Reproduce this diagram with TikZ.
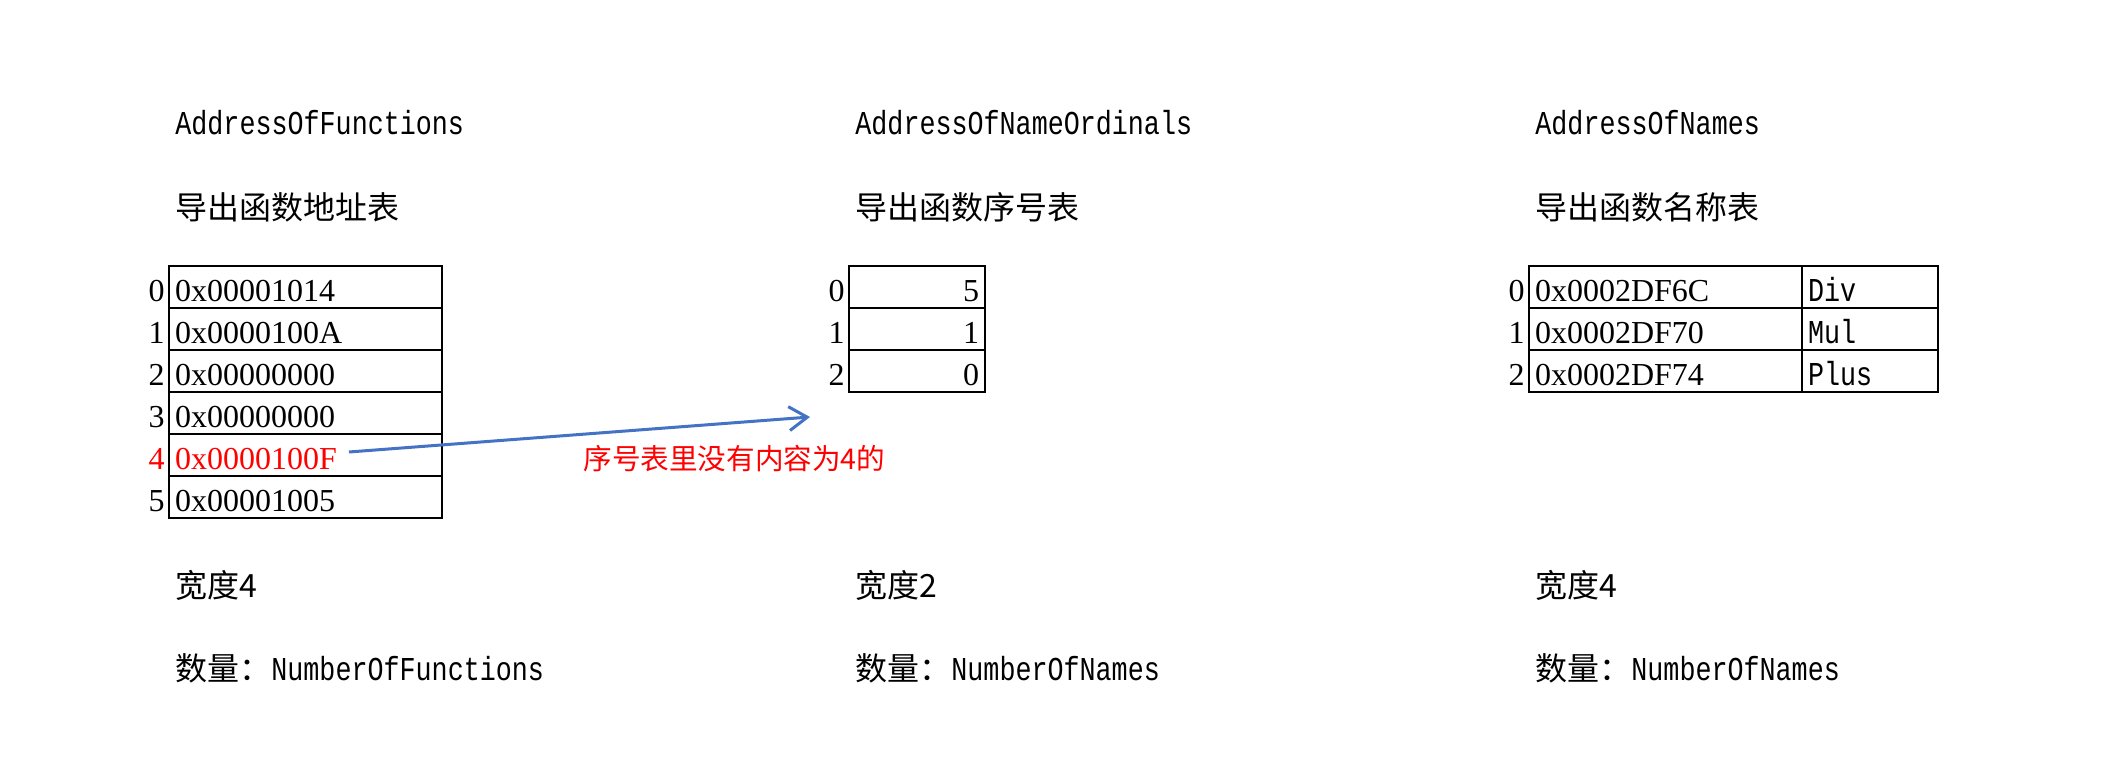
\documentclass[tikz,border=0pt]{standalone}
\usepackage{fontspec}
\setmainfont{Liberation Serif}
\newfontfamily\cjk{Noto Sans CJK SC}
\newfontfamily\monofam[FakeStretch=0.8]{Liberation Mono}
\usepackage{tikz}
\usetikzlibrary{arrows.meta,positioning,calc}
\definecolor{ArrowBlue}{HTML}{4472C4}
\definecolor{NoteRed}{HTML}{FF0000}
\newcommand{\numfont}{\fontsize{16}{19}\selectfont\rmfamily}
\newcommand{\codefont}{\fontsize{16.7}{19}\selectfont\monofam}
\newcommand{\zhfont}{\fontsize{16}{19}\selectfont\cjk}
\newcommand{\notefont}{\fontsize{14.3}{17}\selectfont\cjk}
\tikzset{
  cell/.style={draw,line width=0.6pt,minimum height=21pt,inner xsep=3pt,inner ysep=0pt,
    text height=14.5pt,text depth=0pt,outer sep=0pt,anchor=north west,font=\numfont},
  addr/.style={cell,text width=130.5pt,align=left},
  ord/.style={cell,text width=62pt,align=right},
  fname/.style={cell,text width=62pt,align=left,font=\codefont},
  idx/.style={inner sep=0pt,text height=14.5pt,text depth=0pt,font=\numfont,anchor=east},
  caption/.style={anchor=west,inner sep=0pt},
  pointer/.style={-{Straight Barb[length=3.2mm,width=4.2mm]},line width=1.5pt,color=ArrowBlue}
}
\begin{document}
\begin{tikzpicture}[x=0.5pt,y=-0.5pt]
  \useasboundingbox (0,0) rectangle (2117,764);
  % titles
  \node[caption,font=\codefont] (titleF) at (175,123) {AddressOfFunctions};
  \node[caption,font=\codefont] (titleO) at (855,123) {AddressOfNameOrdinals};
  \node[caption,font=\codefont] (titleN) at (1535,123) {AddressOfNames};
  \node[caption,font=\zhfont] (zhF) at (175,207) {导出函数地址表};
  \node[caption,font=\zhfont] (zhO) at (855,207) {导出函数序号表};
  \node[caption,font=\zhfont] (zhN) at (1535,207) {导出函数名称表};
  % AddressOfFunctions
  \foreach \i/\v/\c in {0/0x00001014/black,1/0x0000100A/black,2/0x00000000/black,
      3/0x00000000/black,4/0x0000100F/NoteRed,5/0x00001005/black}{
    \node[addr,text=\c] (f\i) at (169,266+42*\i) {\v};
    \node[idx,text=\c] (fi\i) at ($(f\i.west)+(-2pt,0)$) {\i};
  }
  % AddressOfNameOrdinals
  \foreach \i/\v in {0/5,1/1,2/0}{
    \node[ord] (o\i) at (849,266+42*\i) {\v};
    \node[idx] (oi\i) at ($(o\i.west)+(-2pt,0)$) {\i};
  }
  % AddressOfNames
  \foreach \i/\v/\n in {0/0x0002DF6C/Div,1/0x0002DF70/Mul,2/0x0002DF74/Plus}{
    \node[addr] (n\i) at (1529,266+42*\i) {\v};
    \node[fname] (s\i) at (n\i.north east) {\n};
    \node[idx] (ni\i) at ($(n\i.west)+(-2pt,0)$) {\i};
  }
  % no ordinal 4
  \coordinate (src) at ($(f4.west)+(90pt,1.5pt)$);
  \coordinate (tip) at (810,417);
  \draw[pointer] (src) -- (tip);
  \node[caption,font=\notefont,text=NoteRed] (note) at (583,459) {序号表里没有内容为4的};
  % widths and counts
  \node[caption,font=\zhfont] (wF) at (175,585) {宽度4};
  \node[caption,font=\zhfont] (wO) at (855,585) {宽度2};
  \node[caption,font=\zhfont] (wN) at (1535,585) {宽度4};
  \node[caption] (cF) at (175,668) {{\zhfont 数量：}{\codefont NumberOfFunctions}};
  \node[caption] (cO) at (855,668) {{\zhfont 数量：}{\codefont NumberOfNames}};
  \node[caption] (cN) at (1535,668) {{\zhfont 数量：}{\codefont NumberOfNames}};
\end{tikzpicture}
\end{document}
